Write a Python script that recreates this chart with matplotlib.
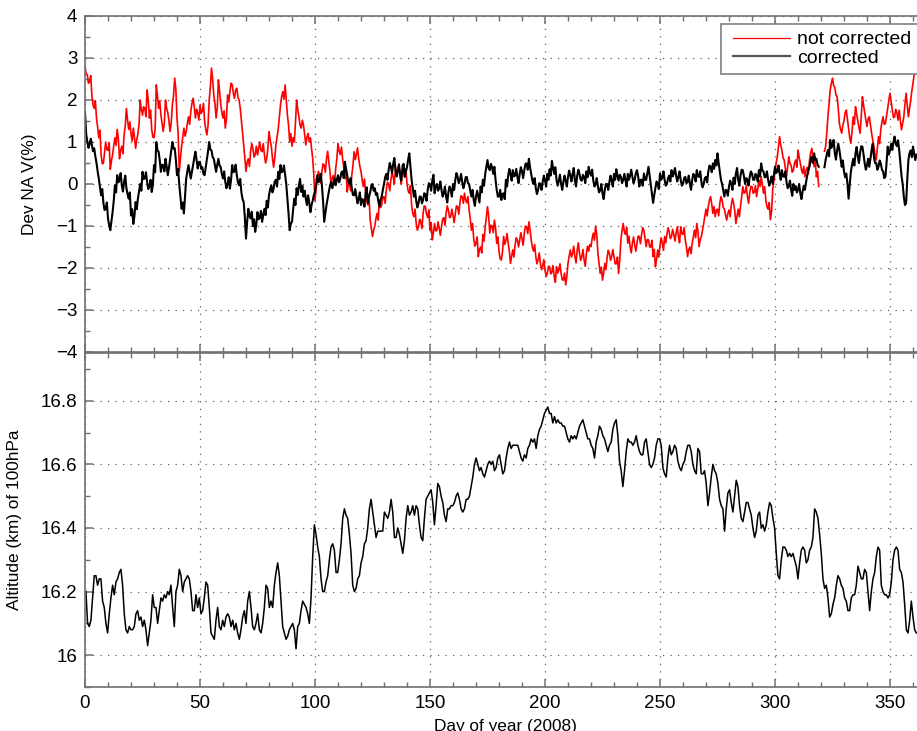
import numpy as np
import matplotlib
matplotlib.use('Agg')
import matplotlib.pyplot as plt
from matplotlib.ticker import MultipleLocator
from matplotlib.legend_handler import HandlerLine2D

plt.rcParams['font.family'] = ['Liberation Sans', 'DejaVu Sans']

nan = np.nan

#---------------------- DATA
# deviation of NA V (%), two samples per day (day d and d+0.5), days 0..361.5
dev_not_corrected = [
    2.80, 2.62, 2.60, 2.40, 2.45, 2.58, 2.10, 1.88, 1.80, 1.98,
    1.57, 1.35, 1.10, 1.28, 0.70, 0.48, 0.50, 0.74, 1.00, 0.82,
    0.80, 0.98, 0.35, 0.55, 0.70, 0.92, 1.10, 0.92, 1.30, 1.08,
    0.60, 0.80, 0.90, 0.72, 1.17, 1.38, 1.80, 1.52, 1.30, 1.48,
    1.20, 1.02, 1.33, 1.12, 0.85, 1.05, 1.20, 1.42, 2.00, 1.78,
    1.64, 1.84, 1.80, 1.60, 2.24, 2.00, 1.57, 1.76, 1.30, 1.12,
    1.10, 1.32, 2.36, 2.10, 1.80, 1.98, 1.64, 1.44, 1.25, 1.46,
    2.00, 1.80, 1.70, 1.50, 1.25, 1.46, 1.90, 2.10, 2.52, 2.26,
    1.57, 1.20, 0.30, 0.60, 0.90, 1.12, 1.33, 1.14, 1.25, 1.44,
    1.60, 1.42, 1.73, 1.92, 2.04, 1.84, 1.57, 1.78, 1.70, 1.52,
    1.88, 1.68, 1.73, 1.92, 1.50, 1.30, 1.17, 1.40, 2.00, 2.30,
    2.76, 2.50, 2.12, 1.92, 1.57, 1.80, 2.48, 2.22, 1.90, 1.70,
    1.57, 1.74, 1.33, 1.55, 2.12, 1.95, 2.20, 2.40, 2.36, 2.16,
    2.04, 2.24, 2.28, 2.06, 2.00, 1.80, 1.50, 1.22, 0.93, 0.62,
    0.30, 0.52, 0.60, 0.42, 0.77, 0.96, 0.85, 0.64, 0.70, 0.90,
    0.69, 0.85, 1.00, 0.80, 0.77, 0.96, 0.70, 0.50, 0.60, 0.84,
    1.25, 1.05, 0.90, 0.62, 0.40, 0.62, 0.93, 1.12, 1.30, 1.58,
    1.88, 2.08, 2.20, 2.02, 2.36, 2.00, 1.64, 1.40, 1.00, 1.20,
    0.90, 1.10, 1.00, 1.46, 2.00, 1.78, 1.60, 1.40, 1.33, 1.52,
    1.40, 1.18, 0.93, 1.12, 1.20, 1.00, 1.10, 0.86, 0.60, 0.20,
    -0.40, -0.10, 0.13, 0.30, 0.20, 0.02, 0.29, 0.48, 0.45, 0.28,
    0.60, 0.78, 0.53, 0.30, -0.03, 0.15, 0.20, 0.02, 0.37, 0.60,
    0.97, 0.78, 0.70, 0.88, 0.60, 0.40, 0.13, 0.30, -0.19, 0.00,
    0.00, -0.16, 0.21, 0.44, 0.77, 0.58, 0.70, 0.86, 0.60, 0.42,
    0.30, 0.10, -0.06, 0.12, -0.22, -0.40, -0.50, -0.32, -0.86, -1.05,
    -1.25, -1.10, -1.00, -0.82, -0.70, -0.86, -0.38, -0.56, -0.50, -0.32,
    -0.30, -0.46, -0.14, 0.04, 0.00, -0.16, 0.10, 0.28, 0.17, 0.00,
    0.41, 0.22, 0.30, 0.48, 0.17, 0.00, 0.45, 0.30, 0.20, 0.36,
    0.00, -0.16, -0.22, -0.04, -0.50, -0.70, -0.78, -0.60, -0.94, -1.10,
    -1.02, -0.84, -0.90, -1.06, -0.70, -0.52, -0.54, -0.72, -0.80, -0.62,
    -1.10, -0.92, -1.33, -1.15, -0.94, -1.12, -1.10, -0.90, -1.05, -1.22,
    -1.02, -0.84, -0.80, -0.98, -0.70, -0.52, -0.62, -0.80, -0.78, -0.60,
    -0.75, -0.92, -0.70, -0.52, -0.54, -0.72, -0.45, -0.28, -0.30, -0.46,
    -0.22, -0.38, -0.45, -0.30, -0.62, -0.82, -1.10, -0.94, -1.30, -1.48,
    -1.41, -1.26, -1.73, -1.56, -1.50, -1.64, -1.20, -1.36, -1.02, -0.80,
    -0.54, -0.76, -1.17, -0.98, -1.00, -1.16, -0.86, -1.04, -1.41, -1.26,
    -1.60, -1.78, -1.81, -1.62, -1.25, -1.44, -1.35, -1.18, -1.41, -1.60,
    -1.89, -1.72, -1.57, -1.74, -1.45, -1.28, -1.33, -1.50, -1.33, -1.16,
    -1.30, -1.46, -1.17, -1.00, -1.02, -1.18, -0.90, -1.08, -1.33, -1.50,
    -1.60, -1.44, -1.73, -1.90, -1.81, -1.64, -1.89, -2.04, -1.95, -1.80,
    -2.05, -2.20, -2.13, -1.96, -1.97, -2.14, -2.10, -1.94, -2.20, -2.34,
    -1.97, -2.12, -2.05, -1.90, -2.13, -2.28, -2.29, -2.12, -2.40, -2.20,
    -1.89, -1.72, -1.57, -1.74, -1.65, -1.48, -1.73, -1.88, -1.57, -1.40,
    -1.65, -1.82, -1.73, -1.56, -1.81, -1.96, -1.65, -1.48, -1.60, -1.44,
    -1.49, -1.30, -1.17, -1.34, -1.00, -1.20, -1.65, -1.90, -2.13, -1.98,
    -2.29, -2.12, -1.89, -2.04, -1.75, -1.58, -1.65, -1.82, -1.73, -1.56,
    -1.73, -1.90, -1.90, -1.74, -2.13, -1.80, -1.33, -1.10, -0.94, -1.14,
    -1.20, -1.04, -1.41, -1.24, -1.49, -1.64, -1.41, -1.26, -1.45, -1.60,
    -1.41, -1.24, -1.25, -1.42, -1.20, -1.04, -1.10, -1.30, -1.49, -1.32,
    -1.33, -1.50, -1.50, -1.34, -1.73, -1.56, -1.97, -1.80, -1.57, -1.74,
    -1.45, -1.28, -1.41, -1.58, -1.25, -1.40, -1.20, -1.04, -1.14, -1.30,
    -1.25, -1.08, -1.20, -1.36, -1.17, -1.02, -1.25, -1.40, -1.02, -1.18,
    -1.20, -1.04, -1.33, -1.50, -1.73, -1.56, -1.50, -1.66, -1.41, -1.26,
    -1.10, -1.28, -0.94, -1.12, -1.49, -1.32, -1.25, -1.10, -0.94, -0.76,
    -0.60, -0.76, -0.54, -0.38, -0.30, -0.48, -0.70, -0.54, -0.78, -0.62,
    -0.60, -0.76, -0.46, -0.30, -0.38, -0.56, -0.60, -0.74, -0.86, -0.70,
    -0.62, -0.78, -0.50, -0.34, -0.46, -0.64, -0.94, -0.76, -0.60, -0.78,
    -0.54, -0.30, -0.06, -0.22, -0.20, -0.04, -0.30, -0.46, -0.22, -0.06,
    -0.06, -0.22, -0.20, -0.04, -0.30, -0.12, 0.10, -0.06, 0.17, 0.00,
    -0.22, -0.06, -0.38, -0.54, -0.60, -0.44, -0.85, -0.66, -0.14, 0.08,
    0.30, 0.50, 0.65, 0.90, 1.13, 0.92, 0.80, 0.62, 0.57, 0.36,
    0.17, 0.40, 0.65, 0.48, 0.45, 0.28, 0.33, 0.50, 0.57, 0.40,
    0.81, 0.64, 0.50, 0.34, 0.25, 0.42, 0.17, 0.32, 0.40, 0.24,
    0.57, 0.74, 0.85, 0.64, 0.41, 0.58, 0.17, 0.30, -0.06, nan,
    nan, nan, nan, 0.78, 0.89, 1.20, 1.60, 1.90, 2.24, 2.40,
    2.52, 2.34, 2.30, 2.12, 2.08, 1.80, 1.44, 1.30, 1.21, 1.40,
    1.50, 1.70, 1.76, 1.54, 1.30, 1.10, 0.97, 1.26, 1.60, 1.42,
    1.84, 1.66, 1.50, 1.34, 1.21, 1.60, 2.08, 1.88, 1.70, 1.52,
    1.37, 1.56, 1.60, 1.40, 1.21, 1.04, 0.90, 0.70, 0.57, 0.84,
    1.13, 0.96, 1.30, 1.48, 1.60, 1.42, 1.44, 1.62, 1.80, 2.00,
    2.16, 1.96, 1.76, 1.58, 1.60, 1.78, 1.70, 1.52, 1.76, 1.50,
    1.29, 1.44, 1.60, 1.90, 2.16, 1.88, 1.60, 1.80, 2.00, 2.22,
    2.40, 2.60, 2.87, 2.70,
]

dev_corrected = [
    1.70, 1.20, 1.00, 0.86, 0.95, 1.08, 0.93, 0.78, 0.85, 0.66,
    0.50, 0.30, 0.13, -0.08, -0.27, -0.12, -0.45, -0.62, -0.59, -0.44,
    -0.82, -0.98, -1.10, -0.88, -0.67, -0.40, -0.03, -0.20, 0.21, 0.04,
    0.10, 0.26, -0.03, -0.18, 0.05, 0.20, -0.10, -0.24, -0.35, -0.20,
    -0.75, -0.60, -0.95, -0.76, -0.43, -0.60, -0.35, -0.18, 0.00, -0.16,
    0.29, 0.12, 0.13, 0.28, 0.05, -0.12, -0.05, 0.10, -0.19, -0.02,
    0.45, 0.28, 1.00, 0.80, 0.77, 0.56, 0.29, 0.46, 0.45, 0.30,
    0.60, 0.42, 0.21, 0.38, 0.60, 0.80, 1.00, 0.84, 0.85, 0.58,
    0.21, 0.36, -0.03, -0.30, -0.59, -0.44, -0.70, -0.30, 0.13, 0.30,
    0.45, 0.28, 0.13, 0.30, 0.45, 0.62, 0.77, 0.58, 0.37, 0.52,
    0.53, 0.36, 0.40, 0.24, 0.21, 0.40, 0.60, 0.78, 1.00, 0.82,
    0.80, 0.64, 0.60, 0.44, 0.29, 0.46, 0.60, 0.44, 0.40, 0.24,
    0.13, 0.30, 0.05, -0.10, 0.00, 0.16, -0.11, 0.10, 0.45, 0.28,
    0.30, 0.46, 0.21, 0.04, -0.03, 0.12, -0.20, -0.36, -0.43, -0.80,
    -1.30, -0.90, -0.59, -0.76, -0.82, -0.66, -1.00, -0.84, -1.14, -0.96,
    -0.67, -0.84, -0.80, -0.64, -0.90, -0.74, -0.59, -0.74, -0.40, -0.56,
    -0.27, -0.12, -0.03, -0.20, -0.11, 0.06, 0.10, -0.06, 0.29, 0.12,
    0.45, 0.28, 0.30, 0.44, 0.21, 0.00, -0.35, -0.70, -1.10, -0.94,
    -0.90, -0.60, -0.35, -0.50, -0.10, -0.26, -0.03, 0.12, -0.19, -0.04,
    -0.30, -0.16, -0.35, -0.50, -0.27, -0.44, -0.67, -0.50, -0.40, -0.26,
    -0.19, 0.00, 0.21, 0.04, 0.10, 0.24, -0.03, -0.40, -0.90, -0.70,
    -0.50, -0.34, -0.19, -0.04, 0.05, -0.10, 0.00, 0.14, -0.03, 0.10,
    0.21, 0.04, 0.13, 0.28, 0.30, 0.14, 0.53, 0.36, 0.21, 0.04,
    0.00, 0.14, -0.11, -0.26, -0.27, -0.12, -0.30, -0.46, -0.35, -0.20,
    -0.50, -0.36, -0.38, -0.54, -0.22, -0.08, -0.46, -0.30, -0.20, -0.04,
    0.00, -0.16, -0.10, -0.26, -0.22, -0.40, -0.54, -0.38, -0.30, -0.14,
    0.00, 0.16, 0.24, 0.10, 0.33, 0.50, 0.40, 0.26, 0.48, 0.62,
    0.33, 0.18, 0.30, 0.46, 0.24, 0.08, 0.33, 0.48, 0.17, 0.30,
    0.40, 0.58, 0.73, 0.40, 0.10, -0.10, -0.30, -0.16, -0.40, -0.56,
    -0.46, -0.30, -0.30, -0.46, -0.38, -0.22, -0.25, -0.40, -0.14, 0.02,
    0.00, -0.16, 0.08, 0.22, -0.22, -0.06, 0.00, -0.16, -0.10, 0.06,
    -0.14, -0.30, -0.22, -0.06, -0.30, -0.44, -0.20, -0.06, -0.14, -0.30,
    0.00, -0.14, 0.10, 0.26, 0.17, 0.02, 0.10, 0.24, 0.05, -0.10,
    0.00, 0.16, 0.17, 0.02, 0.00, -0.16, -0.30, -0.14, -0.38, -0.52,
    -0.30, -0.16, -0.30, -0.44, -0.06, -0.20, 0.10, -0.04, 0.24, 0.40,
    0.57, 0.38, 0.33, 0.48, 0.40, 0.24, 0.41, 0.10, -0.14, -0.30,
    -0.30, -0.14, -0.38, -0.24, -0.22, -0.36, 0.10, -0.06, 0.20, 0.36,
    0.24, 0.08, 0.33, 0.18, 0.20, 0.36, 0.17, 0.02, 0.24, 0.40,
    0.30, 0.14, 0.33, 0.48, 0.49, 0.34, 0.60, 0.40, 0.24, 0.08,
    0.00, 0.14, -0.10, -0.24, -0.14, 0.02, 0.00, -0.14, 0.05, 0.20,
    0.08, -0.06, 0.24, 0.10, 0.35, 0.20, 0.55, 0.38, 0.24, 0.40,
    0.10, -0.04, 0.08, 0.22, 0.00, -0.14, 0.05, 0.20, 0.08, -0.06,
    0.17, 0.32, 0.20, 0.06, 0.24, 0.38, 0.08, -0.06, 0.20, 0.34,
    0.24, 0.10, 0.08, 0.22, 0.17, 0.02, 0.30, 0.16, 0.41, 0.26,
    0.20, 0.34, 0.08, -0.06, 0.00, 0.14, -0.06, -0.20, -0.15, 0.00,
    -0.22, -0.36, -0.14, 0.00, 0.00, -0.14, 0.05, 0.20, 0.08, -0.06,
    0.24, 0.10, 0.35, 0.20, 0.08, 0.22, 0.17, 0.02, 0.10, 0.24,
    0.08, -0.06, 0.24, 0.10, 0.20, 0.34, 0.17, 0.02, 0.10, 0.26,
    0.33, 0.18, -0.06, 0.10, 0.10, -0.04, 0.25, 0.10, 0.10, 0.26,
    0.41, 0.20, 0.00, -0.20, -0.45, -0.26, -0.10, 0.06, 0.01, -0.12,
    0.25, 0.10, 0.15, 0.30, 0.10, -0.04, 0.00, 0.14, 0.20, 0.06,
    0.33, 0.18, 0.25, 0.38, 0.20, 0.06, 0.17, 0.30, 0.10, -0.04,
    0.00, 0.14, 0.17, 0.02, 0.05, 0.20, 0.00, -0.14, 0.10, 0.24,
    0.20, 0.06, 0.33, 0.18, 0.17, 0.30, 0.05, -0.08, 0.00, 0.14,
    0.17, 0.04, 0.30, 0.44, 0.41, 0.28, 0.49, 0.36, 0.57, 0.44,
    0.73, 0.50, 0.30, 0.10, 0.00, -0.16, -0.30, -0.14, -0.15, -0.28,
    -0.06, 0.08, 0.00, -0.14, 0.15, 0.00, 0.25, 0.38, 0.10, -0.04,
    0.20, 0.34, 0.33, 0.18, 0.00, 0.14, 0.10, -0.04, 0.17, 0.30,
    0.25, 0.10, 0.10, 0.24, 0.20, 0.06, 0.33, 0.18, 0.49, 0.32,
    0.30, 0.16, 0.17, 0.30, 0.10, -0.04, 0.05, 0.18, 0.00, 0.20,
    0.41, 0.26, 0.30, 0.44, 0.25, 0.10, 0.33, 0.18, 0.17, 0.30,
    0.05, -0.10, -0.06, 0.08, -0.14, -0.28, 0.00, -0.14, -0.05, -0.20,
    -0.14, 0.00, -0.22, -0.36, -0.18, -0.04, -0.14, 0.04, 0.20, 0.34,
    0.41, 0.56, 0.65, 0.50, 0.73, 0.58, 0.60, 0.46, 0.41, nan,
    nan, nan, nan, 0.40, 0.57, 0.70, 0.81, 0.66, 1.05, 0.86,
    0.95, 1.05, 0.73, 0.58, 0.80, 0.96, 0.81, 0.60, 0.41, 0.56,
    0.30, 0.16, 0.25, 0.00, -0.35, 0.00, 0.30, 0.46, 0.60, 0.44,
    0.73, 0.88, 0.65, 0.50, 0.75, 0.90, 0.89, 0.70, 0.49, 0.34,
    0.45, 0.60, 0.41, 0.60, 0.81, 0.96, 0.65, 0.50, 0.50, 0.34,
    0.41, 0.56, 0.49, 0.34, 0.30, 0.14, 0.17, 0.50, 0.89, 0.70,
    0.80, 0.96, 0.81, 1.00, 1.13, 0.96, 0.90, 1.04, 0.81, 0.50,
    0.20, 0.00, -0.30, -0.50, -0.46, 0.10, 0.57, 0.74, 0.80, 0.64,
    0.89, 0.72, 0.57, 0.70,
]

# altitude (km) of the 100 hPa level, sampled every 0.725 day from day 0.4
alt_km = [
    16.20, 16.10, 16.09, 16.11, 16.18, 16.25, 16.25, 16.22, 16.24, 16.24,
    16.17, 16.15, 16.10, 16.07, 16.13, 16.18, 16.22, 16.19, 16.23, 16.24,
    16.26, 16.27, 16.22, 16.13, 16.08, 16.07, 16.09, 16.08, 16.08, 16.09,
    16.13, 16.14, 16.11, 16.12, 16.09, 16.11, 16.08, 16.03, 16.07, 16.11,
    16.19, 16.15, 16.15, 16.10, 16.14, 16.18, 16.17, 16.19, 16.18, 16.20,
    16.19, 16.22, 16.15, 16.09, 16.20, 16.22, 16.27, 16.25, 16.20, 16.23,
    16.24, 16.25, 16.24, 16.20, 16.14, 16.14, 16.19, 16.15, 16.18, 16.13,
    16.14, 16.18, 16.23, 16.22, 16.15, 16.07, 16.06, 16.05, 16.11, 16.15,
    16.09, 16.08, 16.11, 16.09, 16.12, 16.13, 16.12, 16.09, 16.11, 16.08,
    16.10, 16.07, 16.05, 16.08, 16.12, 16.14, 16.10, 16.17, 16.20, 16.15,
    16.09, 16.08, 16.10, 16.13, 16.08, 16.07, 16.10, 16.15, 16.22, 16.21,
    16.15, 16.17, 16.15, 16.22, 16.26, 16.29, 16.25, 16.17, 16.09, 16.07,
    16.05, 16.06, 16.08, 16.09, 16.10, 16.08, 16.02, 16.09,
    16.10, 16.14, 16.17, 16.16, 16.15, 16.13, 16.10, 16.18, 16.31, 16.41,
    16.38, 16.34, 16.31, 16.24, 16.20, 16.20, 16.23, 16.25, 16.30, 16.34,
    16.35, 16.33, 16.26, 16.26, 16.30, 16.35, 16.43, 16.46, 16.44, 16.43,
    16.38, 16.32, 16.22, 16.20, 16.21, 16.24, 16.25, 16.29, 16.31, 16.35,
    16.36, 16.40, 16.46, 16.49, 16.45, 16.41, 16.37, 16.39, 16.39, 16.39,
    16.39, 16.45, 16.44, 16.43, 16.45, 16.49, 16.45, 16.37, 16.37, 16.40,
    16.38, 16.35, 16.32,
    16.36, 16.43, 16.47, 16.44, 16.45, 16.47, 16.44, 16.47, 16.46, 16.41,
    16.37, 16.36, 16.43, 16.49, 16.50, 16.51, 16.52, 16.48, 16.41, 16.47,
    16.54, 16.53, 16.50, 16.48, 16.44, 16.42, 16.46, 16.46, 16.47, 16.47,
    16.48, 16.50, 16.51, 16.49, 16.46, 16.45, 16.46, 16.49, 16.49, 16.50,
    16.53, 16.56, 16.60, 16.62, 16.60, 16.58, 16.59, 16.57, 16.56, 16.58,
    16.60, 16.61, 16.60, 16.61, 16.58, 16.59, 16.62, 16.63, 16.60, 16.57,
    16.58, 16.62, 16.65, 16.67, 16.65, 16.66, 16.66, 16.66, 16.66, 16.64,
    16.62, 16.61, 16.63, 16.62, 16.65, 16.66, 16.68, 16.67, 16.68, 16.65,
    16.69, 16.71, 16.72, 16.74, 16.76, 16.77, 16.78, 16.76, 16.76, 16.73,
    16.75, 16.73, 16.74, 16.73, 16.73, 16.72, 16.72, 16.70, 16.68, 16.67,
    16.69, 16.68, 16.69, 16.68, 16.70, 16.72, 16.73, 16.74, 16.72, 16.70,
    16.68, 16.68, 16.66, 16.65, 16.62, 16.67, 16.69, 16.72, 16.71, 16.69,
    16.68, 16.66, 16.64, 16.66, 16.67, 16.71, 16.73, 16.74, 16.69,
    16.61, 16.58, 16.53, 16.58, 16.64, 16.68, 16.67, 16.67, 16.66, 16.67,
    16.69, 16.66, 16.64, 16.63, 16.63, 16.67, 16.68, 16.64, 16.60, 16.59,
    16.60, 16.62, 16.66, 16.68, 16.68, 16.66, 16.59, 16.57, 16.56, 16.62,
    16.66, 16.63, 16.64, 16.66, 16.65, 16.61, 16.59, 16.58, 16.60, 16.61,
    16.64, 16.66, 16.66, 16.64, 16.60, 16.58, 16.57, 16.65, 16.64, 16.57,
    16.57, 16.58, 16.54, 16.47, 16.51, 16.56, 16.60, 16.58, 16.57, 16.54,
    16.49, 16.47, 16.46, 16.39, 16.46, 16.51, 16.52, 16.48, 16.45, 16.50,
    16.55, 16.53, 16.47, 16.43, 16.42, 16.45, 16.48, 16.48, 16.46, 16.44,
    16.40, 16.37, 16.39, 16.44, 16.45, 16.40, 16.41, 16.39, 16.41, 16.45,
    16.48, 16.47, 16.43, 16.40, 16.32, 16.25, 16.24, 16.30, 16.34, 16.34,
    16.33, 16.31, 16.32, 16.31, 16.32, 16.30, 16.28, 16.24, 16.29, 16.33,
    16.34, 16.33, 16.29, 16.30, 16.33, 16.34, 16.37, 16.46, 16.45, 16.43,
    16.38, 16.32, 16.24, 16.21, 16.22, 16.18, 16.12, 16.13, 16.16, 16.18,
    16.22, 16.25, 16.24, 16.22, 16.21, 16.18, 16.17, 16.14, 16.14, 16.18,
    16.19, 16.19, 16.22, 16.28, 16.26, 16.24, 16.24, 16.27, 16.26, 16.20,
    16.14, 16.20, 16.24, 16.26, 16.31, 16.34, 16.33, 16.22, 16.20, 16.19,
    16.19, 16.18, 16.19, 16.23, 16.30, 16.33, 16.34, 16.33, 16.27, 16.26,
    16.23, 16.16, 16.08, 16.07, 16.11, 16.17, 16.12, 16.08, 16.07,
]

dev_day = 0.5*np.arange(len(dev_corrected))
alt_day = 0.4 + 0.725*np.arange(len(alt_km))

labels = ['not corrected', 'corrected']

##------------------------PLOTTING
W, H = 917., 731.
fig = plt.figure(figsize=(W/100, H/100), dpi=100)

ax1 = fig.add_axes([85/W, 1-352/H, 841.8/W, 336/H])
ax2 = fig.add_axes([85/W, 1-687/H, 841.8/W, 334/H])

spine_col = '#707070'
grid_kw = dict(color='#606060', linestyle=(0, (1, 5)), linewidth=0.9)

for ax in [ax1, ax2]:
    ax.set_xlim(0, 366)
    ax.xaxis.set_major_locator(MultipleLocator(50))
    ax.xaxis.set_minor_locator(MultipleLocator(10))
    for s in ax.spines.values():
        s.set_color(spine_col); s.set_linewidth(1.2)
    ax.tick_params(which='both', direction='in', top=True, right=True, colors=spine_col, labelcolor='black', labelsize=13.5, pad=5.5)
    ax.tick_params(which='major', length=6, width=1.1)
    ax.tick_params(which='minor', length=3.5, width=1.0)
    ax.grid(True, which='major', **grid_kw)
    ax.set_axisbelow(True)

# top panel
ax1.plot(dev_day, dev_not_corrected, color='#ff0000', linewidth=1.2, label=labels[0])
ax1.plot(dev_day, dev_corrected, color='black', linewidth=1.5, label=labels[1])
ax1.set_ylim(-4, 4)
ax1.yaxis.set_major_locator(MultipleLocator(1))
ax1.yaxis.set_minor_locator(MultipleLocator(0.5))
ax1.set_xticklabels([])
ax1.set_ylabel('Dev NA V(%)', fontsize=12.4)
ax1.yaxis.set_label_coords(-0.057, 0.5)

leg = ax1.legend(loc='upper left', bbox_to_anchor=(721/W, 1-24/H), bbox_transform=fig.transFigure,
                 fontsize=14, fancybox=False, framealpha=1, edgecolor='#808080',
                 handlelength=3.2, handletextpad=0.36, borderpad=0.35, labelspacing=0.05, borderaxespad=0,
                 handler_map={matplotlib.lines.Line2D: HandlerLine2D(xpad=0.27)})
leg.get_frame().set_linewidth(1.2)
leg.get_lines()[0].set_linewidth(0.9)
leg.get_lines()[1].set_color('#555555')
leg.get_lines()[1].set_linewidth(1.6)

# bottom panel
ax2.plot(alt_day, alt_km, color='black', linewidth=1.1)
ax2.set_ylim(15.9, 16.95)
ax2.yaxis.set_minor_locator(MultipleLocator(0.1))
ax2.set_yticks([16, 16.2, 16.4, 16.6, 16.8])
ax2.set_yticklabels(['16', '16.2', '16.4', '16.6', '16.8'])
ax2.set_ylabel('Altitude (km) of 100hPa', fontsize=12.4)
ax2.yaxis.set_label_coords(-0.075, 0.5)
ax2.set_xlabel('Day of year (2008)', fontsize=12.4)
ax2.xaxis.set_label_coords(0.5, -0.095)

fig.savefig('out.png', dpi=100)
